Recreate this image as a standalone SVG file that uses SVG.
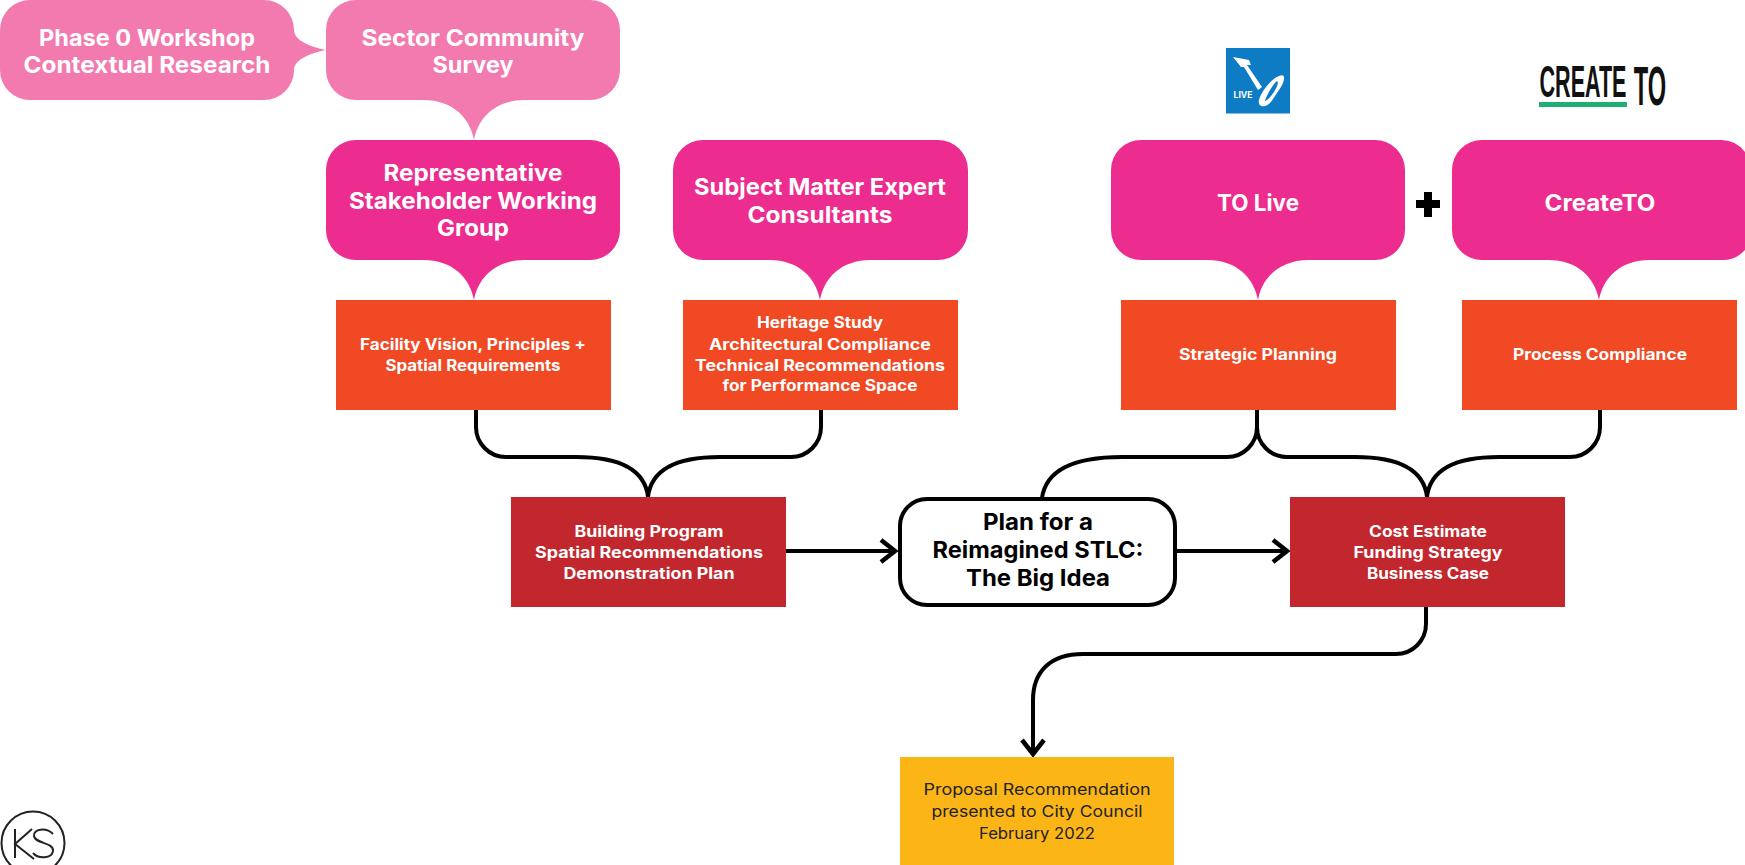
<svg xmlns="http://www.w3.org/2000/svg" width="1745" height="865" viewBox="0 0 1745 865">
<defs>
<marker id="arrow" viewBox="0 0 20 26" refX="17" refY="13" markerWidth="20" markerHeight="26" markerUnits="userSpaceOnUse" orient="auto"><path d="M2 2 L16 13 L2 24" fill="none" stroke="#000" stroke-width="4.500"/></marker>
</defs>
<style>
text{font-family:"Inter","Liberation Sans",sans-serif;text-anchor:middle}
.b{font-weight:700;fill:#fff;font-size:23px}
.s{font-weight:700;fill:#fff;font-size:15.5px}
.k{font-weight:700;fill:#000;font-size:23px}
.y{font-weight:400;fill:#222;font-size:16px}
.lp{fill:#F37AAF}.p{fill:#EC2C8E}.o{fill:#F04923}.r{fill:#C1272D}.g{fill:#FBB516}
.c{fill:none;stroke:#000;stroke-width:4}
</style>
<g id="connectors">
<path class="c" d="M476 410 V427 A30 30 0 0 0 506 457 H576 C620 457 645 470 648 497"/>
<path class="c" d="M821 410 V427 A30 30 0 0 1 791 457 H720 C676 457 651 470 648 497"/>
<path class="c" d="M1257 410 V427 A30 30 0 0 1 1227 457 H1122 C1075 457 1046 470 1042 498"/>
<path class="c" d="M1257 410 V427 A30 30 0 0 0 1287 457 H1355 C1400 457 1424 470 1427 497"/>
<path class="c" d="M1600 410 V427 A30 30 0 0 1 1570 457 H1499 C1454 457 1430 470 1427 497"/>
<path class="c" d="M786 551 H896" marker-end="url(#arrow)"/>
<path class="c" d="M1175 551 H1288" marker-end="url(#arrow)"/>
<path class="c" d="M1426 607 V624 A30 30 0 0 1 1396 654 H1083 C1050 654 1033 672 1033 700 V755" marker-end="url(#arrow)"/>
</g>
<g id="phase0">
<path class="lp" d="M30 0 H264 A30 30 0 0 1 294 30 C294 38 305 46 326 50 C305 54 294 62 294 70 A30 30 0 0 1 264 100 H30 A30 30 0 0 1 0 70 V30 A30 30 0 0 1 30 0Z"/>
<text class="b" x="147" y="45.500" textLength="216" lengthAdjust="spacingAndGlyphs">Phase 0 Workshop</text>
<text class="b" x="147" y="72.500" textLength="247" lengthAdjust="spacingAndGlyphs">Contextual Research</text>
</g>
<g id="sector">
<path class="lp" d="M356 0 H590 A30 30 0 0 1 620 30 V70 A30 30 0 0 1 590 100 H525 C495 100 478 118 474 140 C470 118 453 100 423 100 H356 A30 30 0 0 1 326 70 V30 A30 30 0 0 1 356 0Z"/>
<text class="b" x="473" y="45.500" textLength="223" lengthAdjust="spacingAndGlyphs">Sector Community</text>
<text class="b" x="473" y="72.500" textLength="81" lengthAdjust="spacingAndGlyphs">Survey</text>
</g>
<g id="stakeholder">
<path class="p" d="M356 140 H590 A30 30 0 0 1 620 170 V230 A30 30 0 0 1 590 260 H525 C495 260 478 278 474 300 C470 278 453 260 423 260 H356 A30 30 0 0 1 326 230 V170 A30 30 0 0 1 356 140Z"/>
<text class="b" x="473" y="181" textLength="179" lengthAdjust="spacingAndGlyphs">Representative</text>
<text class="b" x="473" y="208.500" textLength="248" lengthAdjust="spacingAndGlyphs">Stakeholder Working</text>
<text class="b" x="473" y="236" textLength="72" lengthAdjust="spacingAndGlyphs">Group</text>
</g>
<g id="experts">
<path class="p" d="M703 140 H938 A30 30 0 0 1 968 170 V230 A30 30 0 0 1 938 260 H871 C841 260 824 278 820 300 C816 278 799 260 769 260 H703 A30 30 0 0 1 673 230 V170 A30 30 0 0 1 703 140Z"/>
<text class="b" x="820" y="195" textLength="252" lengthAdjust="spacingAndGlyphs">Subject Matter Expert</text>
<text class="b" x="820" y="223" textLength="145" lengthAdjust="spacingAndGlyphs">Consultants</text>
</g>
<g id="tolive">
<path class="p" d="M1141 140 H1375 A30 30 0 0 1 1405 170 V230 A30 30 0 0 1 1375 260 H1309 C1279 260 1262 278 1258 300 C1254 278 1237 260 1207 260 H1141 A30 30 0 0 1 1111 230 V170 A30 30 0 0 1 1141 140Z"/>
<text class="b" x="1258" y="211" textLength="82" lengthAdjust="spacingAndGlyphs">TO Live</text>
</g>
<g id="createto">
<path class="p" d="M1482 140 H1722 A30 30 0 0 1 1745 152 V250 A30 30 0 0 1 1722 260 H1650 C1620 260 1603 278 1599 300 C1595 278 1578 260 1548 260 H1482 A30 30 0 0 1 1452 230 V170 A30 30 0 0 1 1482 140Z"/>
<text class="b" x="1600" y="211" textLength="111" lengthAdjust="spacingAndGlyphs">CreateTO</text>
</g>
<g id="plus"><path d="M1424 192 H1432 V200 H1440 V208 H1432 V217 H1424 V208 H1416 V200 H1424Z" fill="#000"/></g>
<g id="logo-tolive">
<rect x="1226" y="48" width="64" height="65.500" fill="#0E7CC4"/>
<path d="M1233 57 L1249 60 L1251 65 L1247 65 L1262 87 L1258 90 L1244 67 L1241 67Z" fill="#fff"/>
<path d="M1279 76 C1286 73 1285 80 1281 87 L1271 102 C1266 108 1257 108 1259 100 C1261 92 1271 79 1279 76Z M1277 81 C1273 84 1266 96 1265 101 C1270 100 1281 83 1277 81Z" fill="#fff" fill-rule="evenodd"/>
<text x="1243" y="98" font-size="9" font-weight="700" fill="#fff" textLength="19" lengthAdjust="spacingAndGlyphs">LIVE</text>
</g>
<g id="logo-createto">
<text transform="translate(1583 97) scale(0.49 1)" font-size="44" font-weight="700" fill="#111" style="font-family:'Liberation Sans',sans-serif">CREATE</text>
<rect x="1539" y="102" width="88" height="5" fill="#1FAF72"/>
<text transform="translate(1650 105) scale(0.43 1)" font-size="55" font-weight="700" fill="#111" style="font-family:'Liberation Sans',sans-serif">TO</text>
</g>
<g id="vision">
<rect class="o" x="336" y="300" width="275" height="110"/>
<text class="s" x="473" y="349.500" textLength="226" lengthAdjust="spacingAndGlyphs">Facility Vision, Principles +</text>
<text class="s" x="473" y="370.500" textLength="175" lengthAdjust="spacingAndGlyphs">Spatial Requirements</text>
</g>
<g id="heritage">
<rect class="o" x="683" y="300" width="275" height="110"/>
<text class="s" x="820" y="328" textLength="126" lengthAdjust="spacingAndGlyphs">Heritage Study</text>
<text class="s" x="820" y="349.500" textLength="222" lengthAdjust="spacingAndGlyphs">Architectural Compliance</text>
<text class="s" x="820" y="370.500" textLength="250" lengthAdjust="spacingAndGlyphs">Technical Recommendations</text>
<text class="s" x="820" y="391" textLength="195" lengthAdjust="spacingAndGlyphs">for Performance Space</text>
</g>
<g id="strategic">
<rect class="o" x="1121" y="300" width="275" height="110"/>
<text class="s" x="1258" y="359.500" textLength="158" lengthAdjust="spacingAndGlyphs">Strategic Planning</text>
</g>
<g id="process">
<rect class="o" x="1462" y="300" width="275" height="110"/>
<text class="s" x="1600" y="359.500" textLength="174" lengthAdjust="spacingAndGlyphs">Process Compliance</text>
</g>
<g id="program">
<rect class="r" x="511" y="497" width="275" height="110"/>
<text class="s" x="649" y="536.500" textLength="149" lengthAdjust="spacingAndGlyphs">Building Program</text>
<text class="s" x="649" y="557.500" textLength="228" lengthAdjust="spacingAndGlyphs">Spatial Recommendations</text>
<text class="s" x="649" y="578.500" textLength="171" lengthAdjust="spacingAndGlyphs">Demonstration Plan</text>
</g>
<g id="bigidea">
<rect x="900" y="499" width="275" height="106" rx="27" fill="#fff" stroke="#000" stroke-width="4"/>
<text class="k" x="1038" y="530" textLength="110" lengthAdjust="spacingAndGlyphs">Plan for a</text>
<text class="k" x="1038" y="558" textLength="211" lengthAdjust="spacingAndGlyphs">Reimagined STLC:</text>
<text class="k" x="1038" y="586" textLength="144" lengthAdjust="spacingAndGlyphs">The Big Idea</text>
</g>
<g id="cost">
<rect class="r" x="1290" y="497" width="275" height="110"/>
<text class="s" x="1428" y="536.500" textLength="118" lengthAdjust="spacingAndGlyphs">Cost Estimate</text>
<text class="s" x="1428" y="557.500" textLength="149" lengthAdjust="spacingAndGlyphs">Funding Strategy</text>
<text class="s" x="1428" y="578.500" textLength="122" lengthAdjust="spacingAndGlyphs">Business Case</text>
</g>
<g id="proposal">
<rect class="g" x="900" y="757" width="274" height="108"/>
<text class="y" x="1037" y="795" textLength="227" lengthAdjust="spacingAndGlyphs">Proposal Recommendation</text>
<text class="y" x="1037" y="817" textLength="211" lengthAdjust="spacingAndGlyphs">presented to City Council</text>
<text class="y" x="1037" y="839" textLength="116" lengthAdjust="spacingAndGlyphs">February 2022</text>
</g>
<g id="ks-logo">
<circle cx="33" cy="843" r="31.500" fill="none" stroke="#222" stroke-width="2"/>
<path d="M15 829 V858 M32 829 L15 844 L34 859 M53 834 C46 827 33 829 34 836 C35 844 54 842 53 851 C52 859 38 859 33 853" fill="none" stroke="#222" stroke-width="2"/>
</g>
</svg>
